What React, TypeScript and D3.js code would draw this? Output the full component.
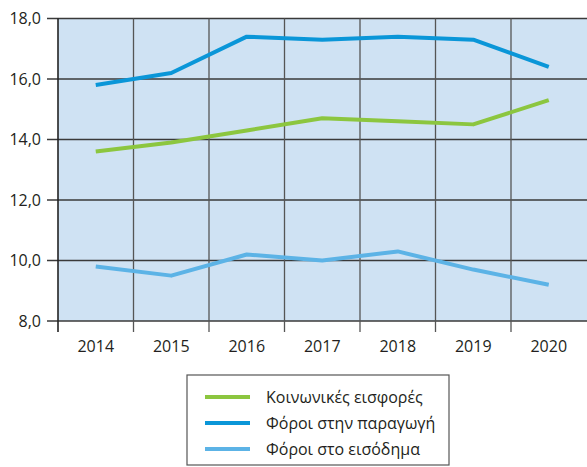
import React, { useRef, useEffect } from 'react';
import * as d3 from 'd3';

const years = ['2014', '2015', '2016', '2017', '2018', '2019', '2020'];
const social = [13.6, 13.9, 14.3, 14.7, 14.6, 14.5, 15.3];
const production = [15.8, 16.2, 17.4, 17.3, 17.4, 17.3, 16.4];
const income = [9.8, 9.5, 10.2, 10.0, 10.3, 9.7, 9.2];
const yTicks = [8, 10, 12, 14, 16, 18];

const seriesNames = ['Κοινωνικές εισφορές', 'Φόροι στην παραγωγή', 'Φόροι στο εισόδημα'];
const seriesColors = ['#8cc63f', '#0a96d8', '#5cb3e6'];

const App = () => {
    const svgRef = useRef<SVGSVGElement>(null);

    useEffect(() => {
        const svg = d3.select(svgRef.current);
        svg.selectAll('*').remove();

        const left = 58, top = 18.5, bottom = 321, right = 587;
        const font = '"Open Sans", sans-serif';

        const x = d3.scaleBand().domain(years).range([left, left + 75.5 * 7]).padding(0);
        const y = d3.scaleLinear().domain([8, 18]).range([bottom, top]);

        // plot background
        svg.append('rect')
            .attr('x', left).attr('y', top)
            .attr('width', right - left).attr('height', bottom - top)
            .attr('fill', '#cfe2f3');

        // horizontal grid + left ticks
        svg.append('g').selectAll('line')
            .data(yTicks)
            .join('line')
            .attr('x1', left - 11).attr('x2', right)
            .attr('y1', d => y(d)).attr('y2', d => y(d))
            .attr('stroke', '#3a3a3a').attr('stroke-width', 1.4);

        // vertical grid on band edges, running below the axis as ticks
        const bounds = years.map(d => x(d)!);
        svg.append('g').selectAll('line')
            .data(bounds)
            .join('line')
            .attr('x1', d => d).attr('x2', d => d)
            .attr('y1', top).attr('y2', bottom + 11)
            .attr('stroke', (d, i) => i === 0 ? '#222' : '#555')
            .attr('stroke-width', (d, i) => i === 0 ? 1.6 : 1.3);

        // y labels
        svg.append('g').selectAll('text')
            .data(yTicks)
            .join('text')
            .attr('x', 41).attr('y', d => y(d))
            .attr('dy', '0.35em')
            .attr('text-anchor', 'end')
            .attr('font-family', font).attr('font-size', 16)
            .attr('fill', '#231f20')
            .text(d => d3.format('.1f')(d).replace('.', ','));

        // x labels
        svg.append('g').selectAll('text')
            .data(years)
            .join('text')
            .attr('x', d => x(d)! + x.bandwidth() / 2)
            .attr('y', 352)
            .attr('text-anchor', 'middle')
            .attr('font-family', font).attr('font-size', 16)
            .attr('fill', '#231f20')
            .text(d => d);

        const line = d3.line<number>()
            .x((d, i) => x(years[i])! + x.bandwidth() / 2)
            .y(d => y(d));

        [social, production, income].forEach((values, i) => {
            svg.append('path')
                .datum(values)
                .attr('fill', 'none')
                .attr('stroke', seriesColors[i])
                .attr('stroke-width', 4)
                .attr('stroke-linejoin', 'round')
                .attr('d', line);
        });

        // legend
        const lg = svg.append('g');
        lg.append('rect')
            .attr('x', 187).attr('y', 375)
            .attr('width', 262).attr('height', 90)
            .attr('fill', '#fff').attr('stroke', '#555').attr('stroke-width', 1.2);

        const rows = lg.selectAll('g.row')
            .data(seriesNames)
            .join('g')
            .attr('class', 'row')
            .attr('transform', (d, i) => `translate(0,${397 + i * 26})`);

        rows.append('line')
            .attr('x1', 205).attr('x2', 250)
            .attr('y1', 0).attr('y2', 0)
            .attr('stroke', (d, i) => seriesColors[i])
            .attr('stroke-width', 4);

        rows.append('text')
            .attr('x', 266).attr('y', 0)
            .attr('dy', '0.35em')
            .attr('font-family', font).attr('font-size', 16)
            .attr('fill', '#231f20')
            .text(d => d);
    }, []);

    return (
        <svg ref={svgRef} width={587} height={467}
            style={{ position: 'fixed', left: 0, top: 0, display: 'block', background: '#fff' }} />
    );
};

export default App;
